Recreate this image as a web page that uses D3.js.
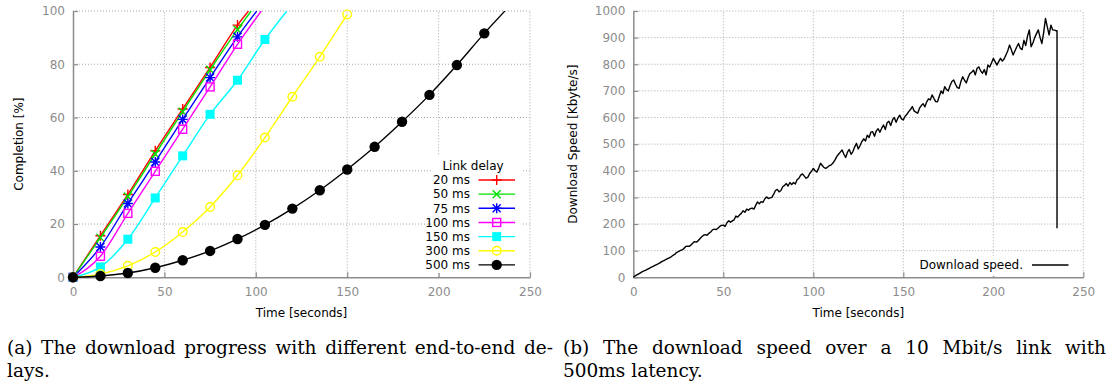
<!DOCTYPE html>
<html>
<head>
<meta charset="utf-8">
<script src="https://cdn.jsdelivr.net/npm/d3@7"></script>
<style>
  html, body { margin: 0; padding: 0; background: #fff; }
  svg { display: block; }
  .tick-label { font-family: "DejaVu Sans", sans-serif; font-size: 12px; fill: #8c8c8c; }
  .axis-title { font-family: "DejaVu Sans", sans-serif; font-size: 12px; fill: #000; }
  .legend-text { font-family: "DejaVu Sans", sans-serif; font-size: 12px; fill: #000; }
  .caption { font-family: "DejaVu Serif", serif; font-size: 18.5px; fill: #000; }
</style>
</head>
<body>
<svg id="chart" width="1112" height="385"></svg>
<script>
// ---------------- DATA ----------------
const linkDelays = ["20 ms", "50 ms", "75 ms", "100 ms", "150 ms", "300 ms", "500 ms"];
const markerTimes = [0, 15, 30, 45, 60, 75, 90, 105, 120, 135, 150, 165, 180, 195, 210, 225];
const completion20 = [0, 15.6, 31.1, 47.5, 63.2, 78.8, 94.7];
const completion50 = [0, 14.9, 30.3, 46.3, 62.2, 77.9, 93.0];
const completion75 = [0, 11.4, 27.7, 43.3, 59.3, 75.0, 90.3];
const completion100 = [0, 7.9, 24.0, 39.8, 55.6, 71.5, 87.5];
const completion150 = [0, 3.9, 14.3, 29.8, 45.6, 61.2, 74.0, 89.3];
const completion300 = [0, 1.2, 4.3, 9.5, 17.0, 26.4, 38.3, 52.5, 67.8, 82.8, 98.7];
const completion500 = [0, 0.5, 1.6, 3.6, 6.4, 9.9, 14.4, 19.7, 25.8, 32.7, 40.5, 49.0, 58.4, 68.5, 79.7, 91.6];
// time (s) at which each download reaches 100 % (null = curve ends at last marker)
const finishTimes = [96, 97.5, 100.5, 103, 117, null, 236.3];
const seriesColors = ["#ff0000", "#00e000", "#0000ff", "#ff00ff", "#00ffff", "#ffff00", "#000000"];
const seriesMarkers = ["plus", "cross", "star", "square", "squareFilled", "circle", "circleFilled"];

const timeTicks = [0, 50, 100, 150, 200, 250];
const completionTicks = [0, 20, 40, 60, 80, 100];
const speedTicks = [0, 100, 200, 300, 400, 500, 600, 700, 800, 900, 1000];

// download speed (Kbyte/s), one sample per second from t = 0 s
const downloadSpeed = [
  0, 5, 9, 13, 17, 21, 24, 27, 31, 34,
  38, 41, 45, 48, 51, 55, 60, 63, 66, 70,
  73, 77, 82, 86, 93, 96, 100, 103, 107, 115,
  117, 116, 121, 128, 134, 132, 137, 145, 152, 158,
  160, 158, 165, 170, 178, 181, 179, 184, 191, 195,
  196, 191, 205, 212, 207, 212, 216, 230, 226, 234,
  240, 250, 244, 256, 252, 258, 260, 256, 270, 283,
  276, 284, 281, 294, 302, 296, 298, 300, 312, 326,
  330, 321, 326, 340, 345, 352, 343, 356, 348, 356,
  350, 366, 372, 384, 388, 380, 372, 376, 390, 398,
  409, 400, 395, 410, 428, 420, 412, 409, 414, 420,
  422, 430, 440, 453, 462, 470, 478, 462, 450, 470,
  480, 462, 472, 490, 503, 482, 495, 510, 520, 512,
  534, 525, 545, 547, 530, 550, 558, 545, 560, 572,
  555, 580, 586, 570, 591, 600, 582, 598, 609, 595,
  591, 605, 612, 622, 630, 641, 625, 620, 616, 635,
  645, 652, 640, 659, 670, 666, 685, 672, 660, 659,
  680, 700, 690, 716, 705, 700, 720, 735, 741, 725,
  712, 710, 735, 753, 740, 730, 750, 765, 770, 778,
  760, 785, 790, 775, 766, 780, 760, 797, 790, 805,
  822, 810, 797, 810, 822, 812, 820, 835, 850, 872,
  855, 835, 850, 865, 878, 860, 855, 890, 870, 905,
  929, 866, 880, 900, 915, 929, 900, 878, 920, 972,
  940, 910, 947, 929, 928, 926
];
const dropTime = 235.4;
const dropValue = 184;

const captionA = ["(a) The download progress with different end-to-end de-", "lays."];
const captionB = ["(b) The download speed over a 10 Mbit/s link with", "500ms latency."];

// ---------------- DRAW ----------------
const svg = d3.select("#chart");
const GRID = "#a8a8a8", AXIS = "#8c8c8c";

function drawFrame(g, x, y, xTicks, yTicks, xTitle, yTitle, yTitleX) {
  const [x0, x1] = x.range();
  const [yb, yt] = y.range();
  g.append("g").selectAll("line").data(xTicks.filter(d => d !== 0)).join("line")
    .attr("x1", d => x(d)).attr("x2", d => x(d)).attr("y1", yb).attr("y2", yt)
    .attr("stroke", GRID).attr("stroke-width", 1).attr("stroke-dasharray", "1,2");
  g.append("g").selectAll("line").data(yTicks.filter(d => d !== 0)).join("line")
    .attr("x1", x0).attr("x2", x1).attr("y1", d => y(d)).attr("y2", d => y(d))
    .attr("stroke", GRID).attr("stroke-width", 1).attr("stroke-dasharray", "1,2");
  const fmt = d3.format("d");
  const yAxis = d3.axisLeft(y).tickValues(yTicks).tickFormat(fmt).tickSizeInner(-5).tickSizeOuter(0).tickPadding(8);
  const xAxis = d3.axisBottom(x).tickValues(xTicks).tickFormat(fmt).tickSizeInner(-5).tickSizeOuter(0).tickPadding(10);
  const ya = g.append("g").attr("transform", `translate(${x0},0)`).call(yAxis);
  const xa = g.append("g").attr("transform", `translate(0,${yb})`).call(xAxis);
  [ya, xa].forEach(a => {
    a.select(".domain").attr("stroke", AXIS).attr("stroke-width", 1.5);
    a.selectAll(".tick line").attr("stroke", AXIS).attr("stroke-width", 1.2);
    a.selectAll(".tick text").attr("class", "tick-label").attr("fill", null)
      .style("font-family", "DejaVu Sans").style("font-size", "12px").style("fill", "#8c8c8c");
  });
  xa.selectAll(".tick text").attr("dy", "0.71em");
  g.append("text").attr("class", "axis-title").attr("x", (x0 + x1) / 2).attr("y", 317)
    .attr("text-anchor", "middle").text(xTitle);
  g.append("text").attr("class", "axis-title")
    .attr("transform", `translate(${yTitleX},${(yb + yt) / 2}) rotate(-90)`)
    .attr("text-anchor", "middle").text(yTitle);
}

function drawMarker(g, type, color, cx, cy) {
  const s = 5;
  if (type === "plus") {
    g.append("path").attr("d", `M${cx - s},${cy}H${cx + s}M${cx},${cy - s}V${cy + s}`)
      .attr("stroke", color).attr("stroke-width", 1.4).attr("fill", "none");
  } else if (type === "cross") {
    const k = 4;
    g.append("path").attr("d", `M${cx - k},${cy - k}L${cx + k},${cy + k}M${cx - k},${cy + k}L${cx + k},${cy - k}`)
      .attr("stroke", color).attr("stroke-width", 1.4).attr("fill", "none");
  } else if (type === "star") {
    const k = 4;
    g.append("path").attr("d", `M${cx - s},${cy}H${cx + s}M${cx},${cy - s}V${cy + s}M${cx - k},${cy - k}L${cx + k},${cy + k}M${cx - k},${cy + k}L${cx + k},${cy - k}`)
      .attr("stroke", color).attr("stroke-width", 1.4).attr("fill", "none");
  } else if (type === "square") {
    g.append("rect").attr("x", cx - 4).attr("y", cy - 4).attr("width", 8).attr("height", 8)
      .attr("stroke", color).attr("stroke-width", 1.4).attr("fill", "none");
  } else if (type === "squareFilled") {
    g.append("rect").attr("x", cx - 4.5).attr("y", cy - 4.5).attr("width", 9).attr("height", 9)
      .attr("fill", color);
  } else if (type === "circle") {
    g.append("circle").attr("cx", cx).attr("cy", cy).attr("r", 4.3)
      .attr("stroke", color).attr("stroke-width", 1.4).attr("fill", "none");
  } else if (type === "circleFilled") {
    g.append("circle").attr("cx", cx).attr("cy", cy).attr("r", 5.2).attr("fill", color);
  }
}

// ---- Chart (a) ----
const xA = d3.scaleLinear().domain([0, 250]).range([73, 530]);
const yA = d3.scaleLinear().domain([0, 100]).range([277.3, 11]);
const gA = svg.append("g");
drawFrame(gA, xA, yA, timeTicks, completionTicks, "Time [seconds]", "Completion [%]", 23);

svg.append("clipPath").attr("id", "clipA").append("rect")
  .attr("x", 73).attr("y", 11).attr("width", 457).attr("height", 267);

const allCompletion = [completion20, completion50, completion75, completion100, completion150, completion300, completion500];
const lineA = d3.line().x(d => xA(d[0])).y(d => yA(d[1])).curve(d3.curveMonotoneX);

allCompletion.forEach((vals, i) => {
  const pts = vals.map((v, j) => [markerTimes[j], v]);
  if (finishTimes[i] !== null) pts.push([finishTimes[i], 100]);
  const sg = gA.append("g");
  sg.append("path").attr("d", lineA(pts)).attr("fill", "none")
    .attr("stroke", seriesColors[i]).attr("stroke-width", 1.4).attr("clip-path", "url(#clipA)");
  vals.forEach((v, j) => drawMarker(sg, seriesMarkers[i], seriesColors[i], xA(markerTimes[j]), yA(v)));
});

const legA = gA.append("g");
legA.append("rect").attr("x", 433).attr("y", 155).attr("width", 89).attr("height", 118).attr("fill", "#fff");
legA.append("text").attr("class", "legend-text").attr("x", 473).attr("y", 170)
  .attr("text-anchor", "middle").text("Link delay");
linkDelays.forEach((name, i) => {
  const cy = 180 + i * 14.15;
  legA.append("text").attr("class", "legend-text").attr("x", 470).attr("y", cy + 4.3)
    .attr("text-anchor", "end").text(name);
  legA.append("line").attr("x1", 478.5).attr("x2", 515).attr("y1", cy).attr("y2", cy)
    .attr("stroke", seriesColors[i]).attr("stroke-width", 1.4);
  drawMarker(legA, seriesMarkers[i], seriesColors[i], 496.7, cy);
});

// ---- Chart (b) ----
const xB = d3.scaleLinear().domain([0, 250]).range([633.3, 1083.3]);
const yB = d3.scaleLinear().domain([0, 1000]).range([277.3, 11]);
const gB = svg.append("g");
drawFrame(gB, xB, yB, timeTicks, speedTicks, "Time [seconds]", "Download Speed [Kbyte/s]", 577);

const speedPts = downloadSpeed.map((v, i) => [i, v]);
speedPts.push([dropTime, downloadSpeed[downloadSpeed.length - 1]]);
speedPts.push([dropTime, dropValue]);
gB.append("path").attr("d", d3.line().x(d => xB(d[0])).y(d => yB(d[1]))(speedPts))
  .attr("fill", "none").attr("stroke", "#000").attr("stroke-width", 1.4).attr("stroke-linejoin", "round");

const legB = gB.append("g");
legB.append("rect").attr("x", 915).attr("y", 256).attr("width", 160).attr("height", 20).attr("fill", "#fff");
legB.append("text").attr("class", "legend-text").attr("x", 1023).attr("y", 269.3)
  .attr("text-anchor", "end").text("Download speed.");
legB.append("line").attr("x1", 1032).attr("x2", 1068.5).attr("y1", 265).attr("y2", 265)
  .attr("stroke", "#000").attr("stroke-width", 1.4);

// ---- Captions ----
function justifiedLine(text, x0, x1, y) {
  const words = text.split(" ");
  const nodes = words.map(w => svg.append("text").attr("class", "caption").attr("y", y).text(w));
  const widths = nodes.map(n => n.node().getComputedTextLength());
  const total = widths.reduce((a, b) => a + b, 0);
  const gap = (x1 - x0 - total) / (words.length - 1);
  let x = x0;
  nodes.forEach((n, i) => { n.attr("x", x); x += widths[i] + gap; });
}
justifiedLine(captionA[0], 7, 553, 354);
svg.append("text").attr("class", "caption").attr("x", 7).attr("y", 377).text(captionA[1]);
justifiedLine(captionB[0], 563, 1106, 354);
svg.append("text").attr("class", "caption").attr("x", 563).attr("y", 377).text(captionB[1]);
</script>
</body>
</html>
